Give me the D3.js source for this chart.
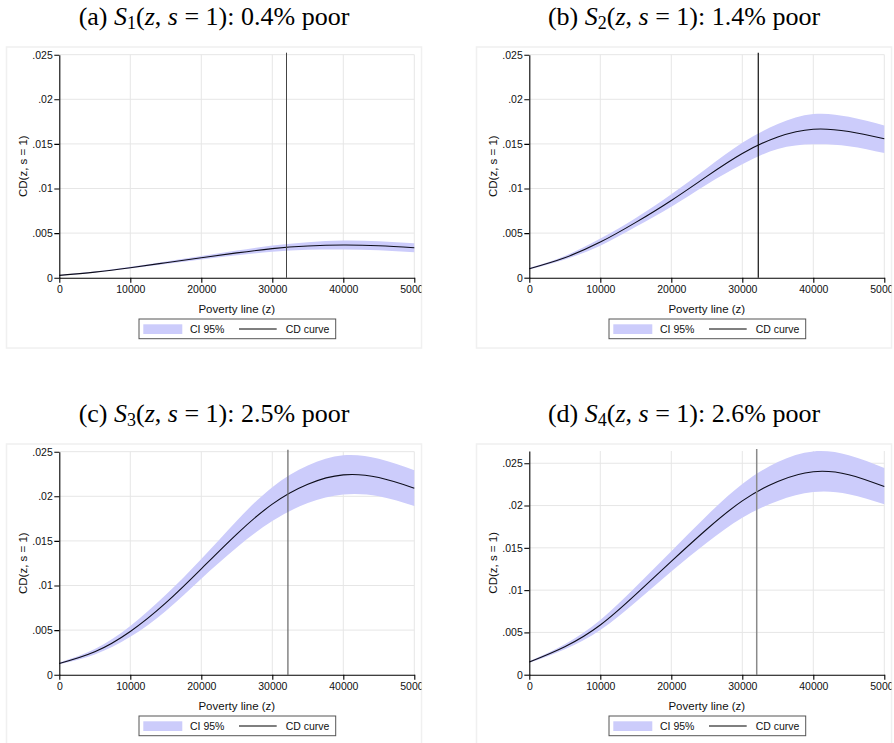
<!DOCTYPE html>
<html lang="en">
<head>
<meta charset="UTF-8">
<title>CD curves</title>
<script src="https://d3js.org/d3.v7.min.js"></script>
<style>
  body { margin: 0; background: #fff; }
  svg { display: block; }
</style>
</head>
<body>
<div id="chart"></div>
<script>
// poverty line grid (z)
var zValues = [0, 5000, 10000, 15000, 20000, 25000, 30000, 35000, 40000, 45000, 50000];

// CD curve and 95% CI, one set per panel
var cdA  = [0.00026, 0.00063, 0.00112, 0.00168, 0.00224, 0.00278, 0.00326, 0.00355, 0.00366, 0.00358, 0.00336];
var lowA = [0.00022, 0.00057, 0.00102, 0.00154, 0.00204, 0.00251, 0.00291, 0.00312, 0.00316, 0.00308, 0.00286];
var upA  = [0.00030, 0.00069, 0.00122, 0.00182, 0.00244, 0.00305, 0.00361, 0.00398, 0.00416, 0.00408, 0.00386];

var cdB  = [0.00101, 0.00224, 0.00399, 0.00620, 0.00866, 0.01136, 0.01392, 0.01578, 0.01665, 0.01639, 0.01557];
var lowB = [0.00091, 0.00204, 0.00359, 0.00570, 0.00796, 0.01046, 0.01272, 0.01443, 0.01495, 0.01474, 0.01397];
var upB  = [0.00111, 0.00244, 0.00439, 0.00670, 0.00936, 0.01226, 0.01512, 0.01723, 0.01835, 0.01804, 0.01707];

var cdC  = [0.00126, 0.00257, 0.00485, 0.00805, 0.01187, 0.01577, 0.01912, 0.02135, 0.02240, 0.02210, 0.02091];
var lowC = [0.00116, 0.00227, 0.00425, 0.00715, 0.01077, 0.01427, 0.01722, 0.01925, 0.02020, 0.02000, 0.01891];
var upC  = [0.00136, 0.00287, 0.00545, 0.00895, 0.01297, 0.01727, 0.02102, 0.02345, 0.02460, 0.02420, 0.02291];

var cdD  = [0.00150, 0.00331, 0.00588, 0.00950, 0.01340, 0.01720, 0.02055, 0.02285, 0.02400, 0.02365, 0.02224];
var lowD = [0.00140, 0.00301, 0.00528, 0.00860, 0.01220, 0.01560, 0.01855, 0.02055, 0.02160, 0.02135, 0.02014];
var upD  = [0.00160, 0.00361, 0.00648, 0.01040, 0.01460, 0.01880, 0.02255, 0.02515, 0.02640, 0.02595, 0.02444];

// titles, poverty line marker and y range per panel
var panelLetters = ["a", "b", "c", "d"];
var panelIndex = ["1", "2", "3", "4"];
var poorShares = ["0.4%", "1.4%", "2.5%", "2.6%"];
var povertyLines = [32000, 32250, 32200, 32030];
var yMaxes = [0.025, 0.025, 0.025, 0.02645];

var xTicks = [0, 10000, 20000, 30000, 40000, 50000];
var yTicks = [0, 0.005, 0.01, 0.015, 0.02, 0.025];

var series = [
  {cd: cdA, low: lowA, up: upA},
  {cd: cdB, low: lowB, up: upB},
  {cd: cdC, low: lowC, up: upC},
  {cd: cdD, low: lowD, up: upD}
];

// layout
var W = 894, H = 743;
var colX = [0, 470];          // horizontal offset of each column
var rowY = [0, 397];          // vertical offset of each row
var frame = {x: 6.5, y: 47, w: 415, h: 301};
var plot = {left: 59.3, right: 414.3, top: 54.7, bottom: 277.7};
var plotTops = [54.7, 54.7, 54.7, 54];
var refColors = ["#444", "#111", "#666", "#8a8a8a"];
var refWidths = [1, 1.2, 1.2, 1.5];

var sans = "'Liberation Sans', Arial, Helvetica, sans-serif";
var serif = "'Liberation Serif', 'Times New Roman', serif";

var svg = d3.select("#chart").append("svg")
    .attr("width", W)
    .attr("height", H);

var yFmt = function(d) { return d === 0 ? "0" : String(d).replace(/^0/, ""); };

series.forEach(function(s, i) {
  var ox = colX[i % 2], oy = rowY[Math.floor(i / 2)];
  var rows = zValues.map(function(z, k) {
    return {z: z, cd: s.cd[k], low: s.low[k], up: s.up[k]};
  });

  // title
  var title = svg.append("text")
      .attr("x", ox + frame.x + frame.w / 2)
      .attr("y", oy + 25)
      .attr("text-anchor", "middle")
      .style("font-family", serif)
      .style("font-size", "26px")
      .style("white-space", "pre")
      .attr("fill", "#000");
  title.append("tspan").text("(" + panelLetters[i] + ") ");
  title.append("tspan").style("font-style", "italic").text("S");
  title.append("tspan").attr("dy", 4).style("font-size", "18px").text(panelIndex[i]);
  title.append("tspan").attr("dy", -4).text("(");
  title.append("tspan").style("font-style", "italic").text("z");
  title.append("tspan").text(", ");
  title.append("tspan").style("font-style", "italic").text("s");
  title.append("tspan").text(" = 1): " + poorShares[i] + " poor");

  // panel frame + clip (clip lives in the group's own coordinates)
  var clipId = "clip" + i;
  svg.append("clipPath").attr("id", clipId)
    .append("rect")
      .attr("x", frame.x).attr("y", frame.y)
      .attr("width", frame.w).attr("height", frame.h + 30);

  svg.append("rect")
      .attr("x", ox + frame.x).attr("y", oy + frame.y)
      .attr("width", frame.w).attr("height", frame.h + (i > 1 ? 20 : 0))
      .attr("fill", "#fff")
      .attr("stroke", "#f0f0f0")
      .attr("stroke-width", 1.5);

  var g = svg.append("g")
      .attr("clip-path", "url(#" + clipId + ")")
      .attr("transform", "translate(" + ox + "," + oy + ")");

  var x = d3.scaleLinear().domain([0, 50000]).range([plot.left, plot.right]);
  var yMax = yMaxes[i];
  var yTop = plotTops[i];
  var y = d3.scaleLinear().domain([0, yMax]).range([plot.bottom, yTop]);

  // grid
  g.append("g").selectAll("line.hg")
    .data(yTicks.filter(function(d) { return d > 0; }))
    .join("line")
      .attr("x1", plot.left).attr("x2", plot.right)
      .attr("y1", function(d) { return y(d); })
      .attr("y2", function(d) { return y(d); })
      .attr("stroke", "#e6e6e6").attr("stroke-width", 1);
  g.append("g").selectAll("line.vg")
    .data(xTicks.filter(function(d) { return d > 0; }))
    .join("line")
      .attr("x1", function(d) { return x(d); })
      .attr("x2", function(d) { return x(d); })
      .attr("y1", yTop).attr("y2", plot.bottom)
      .attr("stroke", "#e6e6e6").attr("stroke-width", 1);

  // CI band
  g.append("path")
    .datum(rows)
    .attr("fill", "#ccccfb")
    .attr("d", d3.area()
      .curve(d3.curveNatural)
      .x(function(d) { return x(d.z); })
      .y0(function(d) { return y(d.low); })
      .y1(function(d) { return y(d.up); }));

  // CD curve
  g.append("path")
    .datum(rows)
    .attr("fill", "none")
    .attr("stroke", "#0d0d1a")
    .attr("stroke-width", 1.1)
    .attr("d", d3.line()
      .curve(d3.curveNatural)
      .x(function(d) { return x(d.z); })
      .y(function(d) { return y(d.cd); }));

  // poverty line marker
  g.append("line")
    .attr("x1", x(povertyLines[i])).attr("x2", x(povertyLines[i]))
    .attr("y1", yTop - 2).attr("y2", plot.bottom)
    .attr("stroke", refColors[i])
    .attr("stroke-width", refWidths[i]);

  // axes
  var xAxis = g.append("g")
    .attr("transform", "translate(0," + plot.bottom + ")")
    .call(d3.axisBottom(x).tickValues(xTicks).tickFormat(d3.format("d")).tickSize(5).tickSizeOuter(0));
  var yAxis = g.append("g")
    .attr("transform", "translate(" + plot.left + ",0)")
    .call(d3.axisLeft(y).tickValues(yTicks).tickFormat(yFmt).tickSize(5).tickSizeOuter(0));

  [xAxis, yAxis].forEach(function(a) {
    a.selectAll("path, line").attr("stroke", "#000").attr("stroke-width", 1.1);
    a.selectAll("text")
      .style("font-family", sans)
      .style("font-size", "10.5px")
      .attr("fill", "#111");
  });
  xAxis.selectAll("text").attr("dy", "0.95em").attr("y", 5);
  yAxis.selectAll("text").attr("x", -6.5);

  // axis titles
  g.append("text")
    .attr("x", (plot.left + plot.right) / 2)
    .attr("y", plot.bottom + 35)
    .attr("text-anchor", "middle")
    .style("font-family", sans).style("font-size", "11.5px")
    .attr("fill", "#111")
    .text("Poverty line (z)");
  g.append("text")
    .attr("transform", "translate(" + (plot.left - 32.5) + "," + ((plot.bottom + yTop) / 2) + ") rotate(-90)")
    .attr("text-anchor", "middle")
    .style("font-family", sans).style("font-size", "11.5px")
    .attr("fill", "#111")
    .text("CD(z, s = 1)");

  // legend
  var lg = g.append("g").attr("transform", "translate(" + (plot.left + 79.7) + "," + (plot.bottom + 41.3) + ")");
  lg.append("rect").attr("width", 196.7).attr("height", 19.7)
    .attr("fill", "#fff").attr("stroke", "#555").attr("stroke-width", 1);
  lg.append("rect").attr("x", 4.3).attr("y", 5.3).attr("width", 39).attr("height", 9.7)
    .attr("fill", "#ccccfb");
  lg.append("text").attr("x", 51).attr("y", 13.8)
    .style("font-family", sans).style("font-size", "10.5px").attr("fill", "#111")
    .text("CI 95%");
  lg.append("line").attr("x1", 100).attr("x2", 137.7).attr("y1", 10).attr("y2", 10)
    .attr("stroke", "#000").attr("stroke-width", 1.1);
  lg.append("text").attr("x", 146.7).attr("y", 13.8)
    .style("font-family", sans).style("font-size", "10.5px").attr("fill", "#111")
    .text("CD curve");
});
</script>
</body>
</html>
